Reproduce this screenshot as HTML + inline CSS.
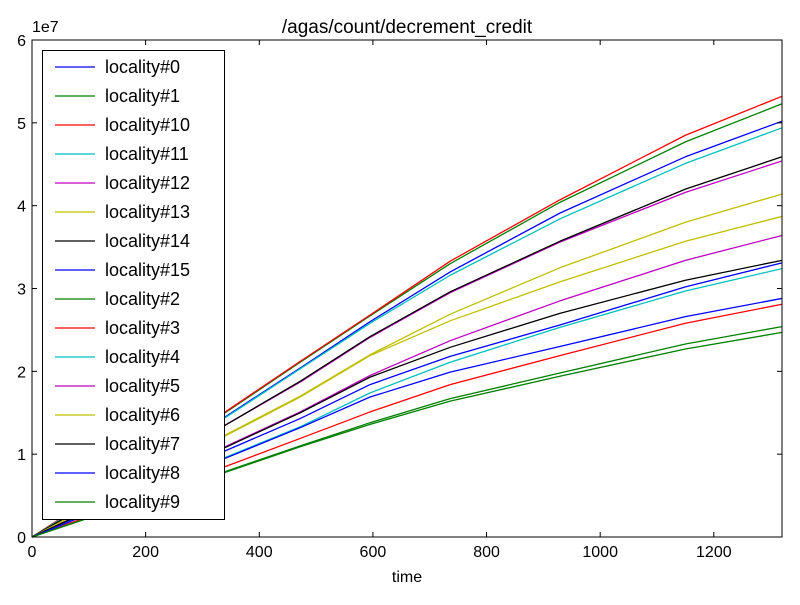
<!DOCTYPE html>
<html><head><meta charset="utf-8"><style>
body{margin:0;background:#fff;}
svg{font-family:"Liberation Sans","DejaVu Sans",sans-serif;}
</style></head><body>
<svg id="chart" width="800" height="600" xmlns="http://www.w3.org/2000/svg">
<rect width="800" height="600" fill="#fff"/>
<g id="lines"></g>
<g id="axes"></g>
<g id="legend"></g>
</svg>
<script>
const times = [0, 340, 472, 595, 736, 929, 1150, 1320];
const seriesNames = ["locality#0","locality#1","locality#10","locality#11","locality#12","locality#13","locality#14","locality#15","locality#2","locality#3","locality#4","locality#5","locality#6","locality#7","locality#8","locality#9"];
const seriesColors = ["#0000ff","#008000","#ff0000","#00bfbf","#bf00bf","#bfbf00","#000000","#0000ff","#008000","#ff0000","#00bfbf","#bf00bf","#bfbf00","#000000","#0000ff","#008000"];
const s0  = [0,1.45,2.04,2.60,3.20,3.91,4.59,5.02];
const s1  = [0,1.50,2.11,2.67,3.30,4.04,4.77,5.23];
const s10 = [0,1.51,2.12,2.68,3.33,4.07,4.85,5.32];
const s11 = [0,1.44,2.03,2.58,3.16,3.84,4.51,4.94];
const s12 = [0,1.35,1.87,2.41,2.95,3.56,4.16,4.54];
const s13 = [0,1.23,1.70,2.20,2.69,3.25,3.80,4.14];
const s14 = [0,1.35,1.88,2.42,2.96,3.57,4.20,4.59];
const s15 = [0,1.04,1.43,1.84,2.18,2.56,3.02,3.31];
const s2  = [0,0.78,1.09,1.36,1.64,1.94,2.27,2.47];
const s3  = [0,0.85,1.19,1.51,1.84,2.19,2.58,2.81];
const s4  = [0,0.96,1.33,1.74,2.11,2.53,2.97,3.24];
const s5  = [0,1.09,1.51,1.95,2.37,2.85,3.34,3.64];
const s6  = [0,1.22,1.69,2.19,2.61,3.08,3.57,3.87];
const s7  = [0,1.08,1.50,1.93,2.29,2.70,3.10,3.34];
const s8  = [0,0.95,1.32,1.69,1.99,2.30,2.66,2.88];
const s9  = [0,0.79,1.10,1.38,1.67,1.98,2.33,2.54];
const seriesValues = [s0,s1,s10,s11,s12,s13,s14,s15,s2,s3,s4,s5,s6,s7,s8,s9];
const xTicks = [0,200,400,600,800,1000,1200];
const yTicks = [0,1,2,3,4,5,6];

const L=32,R=782,T=40,B=537,XMAX=1320,YMAX=6;
const NS="http://www.w3.org/2000/svg";
const xs=t=>L+t/XMAX*(R-L);
const ys=v=>B-v/YMAX*(B-T);
function mk(tag,attrs,parent){const e=document.createElementNS(NS,tag);for(const k in attrs)e.setAttribute(k,attrs[k]);parent.appendChild(e);return e;}

const gl=document.getElementById('lines');
seriesValues.forEach((vals,i)=>{
  const p=mk('polyline',{points:vals.map((v,j)=>xs(times[j])+','+ys(v)).join(' '),fill:'none',stroke:seriesColors[i],'stroke-width':1.3,'stroke-linejoin':'round'},gl);
  
  
});

const ga=document.getElementById('axes');
const fr=mk('rect',{x:L,y:T,width:R-L,height:B-T,fill:'none',stroke:'#000','stroke-width':1},ga);


xTicks.forEach(t=>{
  const x=xs(t);
  mk('line',{x1:x,y1:B,x2:x,y2:B-5,stroke:'#000'},ga);
  mk('line',{x1:x,y1:T,x2:x,y2:T+5,stroke:'#000'},ga);
  const tx=mk('text',{x:x,y:B+20,'text-anchor':'middle','font-size':16},ga);
  tx.textContent=t;
  
  
});
yTicks.forEach(v=>{
  const y=ys(v);
  mk('line',{x1:L,y1:y,x2:L+5,y2:y,stroke:'#000'},ga);
  mk('line',{x1:R,y1:y,x2:R-5,y2:y,stroke:'#000'},ga);
  const tx=mk('text',{x:L-6,y:y+6,'text-anchor':'end','font-size':16},ga);
  tx.textContent=v;
  
  
});
const off=mk('text',{x:L,y:T-8,'font-size':16},ga);off.textContent='1e7';


const ttl=mk('text',{x:(L+R)/2,y:T-7,'text-anchor':'middle','font-size':19},ga);ttl.textContent='/agas/count/decrement_credit';


const xl=mk('text',{x:(L+R)/2,y:B+45,'text-anchor':'middle','font-size':16},ga);xl.textContent='time';



const lg=document.getElementById('legend');


mk('rect',{x:42.5,y:50.5,width:182,height:469,fill:'#fff',stroke:'#000','stroke-width':1},lg);
seriesNames.forEach((n,i)=>{
  const y=67+i*29;
  const g=mk('g',{},lg);
  
  
  mk('line',{x1:55,y1:y,x2:95,y2:y,stroke:seriesColors[i],'stroke-width':1.3},g);
  const t=mk('text',{x:105,y:y+6,'font-size':18},g);t.textContent=n;
});
</script>
</body></html>
